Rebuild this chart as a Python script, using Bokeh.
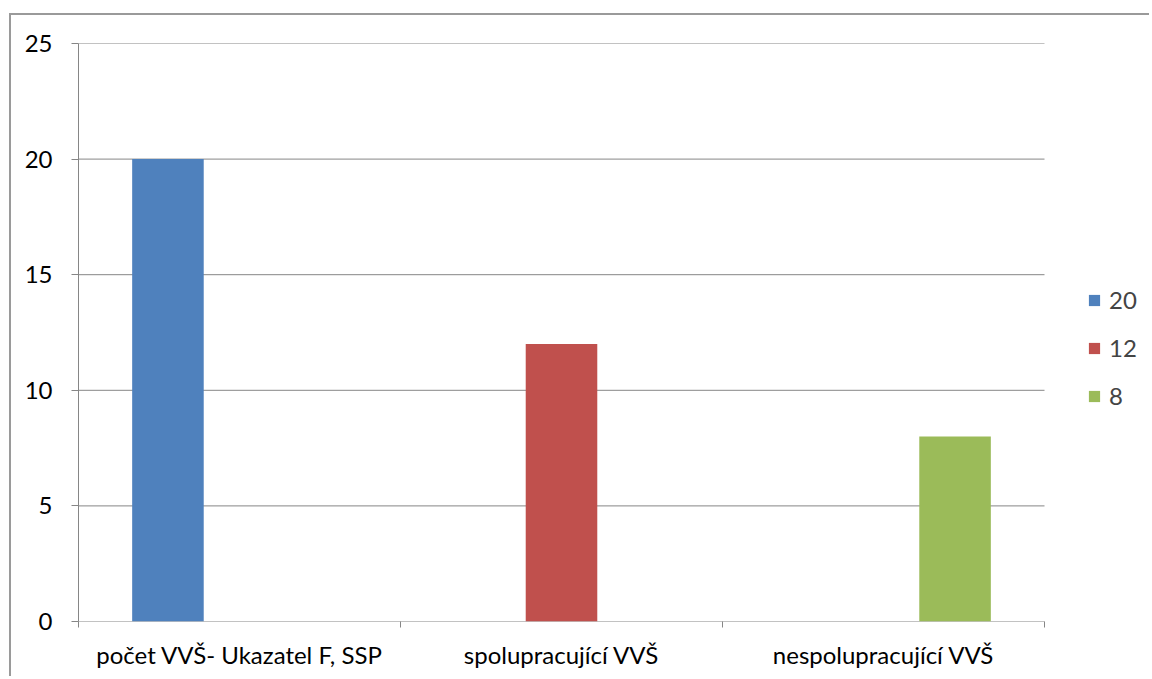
import numpy as np
from bokeh.plotting import figure
from bokeh.models import FixedTicker, Legend, LegendItem, Range1d
from bokeh.embed import file_html
from bokeh.resources import INLINE

categories = ["počet VVŠ- Ukazatel F, SSP", "spolupracující VVŠ", "nespolupracující VVŠ"]
series_names = ["20", "12", "8"]
series_values = [
    [20, 0, 0],
    [0, 12, 0],
    [0, 0, 8],
]
colors = ["#4F81BD", "#C0504D", "#9BBB59"]
y_ticks = [0, 5, 10, 15, 20, 25]

FONT = "Lato"
FS = "24px"
GRAY = "#868686"

# layout (pixels)
W, H = 1140, 663
MB_L, MB_R, MB_T, MB_B = 67, 1, 28, 57
PLOT_W = 966  # pixel width of the category area; the rest of the frame holds the legend
frame_w = W - MB_L - MB_R
n_cat = len(categories)
x_end = n_cat * frame_w / PLOT_W

p = figure(width=W, height=H, output_backend="svg", toolbar_location=None,
           x_range=Range1d(0, x_end), y_range=Range1d(0, y_ticks[-1]),
           min_border_left=MB_L, min_border_top=MB_T, min_border_bottom=MB_B, min_border_right=MB_R)
p.margin = (13, 0, 0, 9)
p.styles = {"border-top": "2px solid #9a9a9a", "border-left": "2px solid #9a9a9a"}
p.outline_line_color = None

# gridlines over the category area only
p.segment(x0=[0] * len(y_ticks), x1=[n_cat] * len(y_ticks), y0=y_ticks, y1=y_ticks,
          line_color=GRAY, line_width=1)

gap_width = 1.5
n = len(series_names)
bar_w = 1.0 / (n + gap_width)
centers = np.arange(n_cat) + 0.5

items = []
for j, (name, vals, col) in enumerate(zip(series_names, series_values, colors)):
    xs = centers + (j - (n - 1) / 2) * bar_w
    r = p.vbar(x=xs, top=vals, width=bar_w, fill_color=col, line_color=None)
    items.append(LegendItem(label=name, renderers=[r]))

# x axis
p.xaxis.ticker = FixedTicker(ticks=list(centers), minor_ticks=list(range(n_cat + 1)))
p.xaxis.major_label_overrides = {float(c): cat for c, cat in zip(centers, categories)}
p.xaxis.major_tick_out = 0
p.xaxis.major_tick_in = 0
p.xaxis.minor_tick_out = 6
p.xaxis.minor_tick_in = 0
p.xaxis.minor_tick_line_color = GRAY
p.xaxis.axis_line_color = None
p.xaxis.major_label_standoff = 12
p.xaxis.major_label_text_font = FONT
p.xaxis.major_label_text_font_size = FS
p.xaxis.major_label_text_color = "#000000"
p.xgrid.grid_line_color = None

# y axis
p.yaxis.ticker = FixedTicker(ticks=y_ticks)
p.yaxis.major_tick_out = 7
p.yaxis.major_tick_in = 0
p.yaxis.minor_tick_line_color = None
p.yaxis.major_tick_line_color = GRAY
p.yaxis.axis_line_color = GRAY
p.yaxis.major_label_standoff = 19
p.yaxis.major_label_text_font = FONT
p.yaxis.major_label_text_font_size = FS
p.yaxis.major_label_text_color = "#000000"
p.ygrid.grid_line_color = None

legend = Legend(items=items, location=(1009, 211), padding=0, margin=0,
                glyph_width=14, glyph_height=14, label_height=14, spacing=19,
                label_standoff=8, label_text_font=FONT, label_text_font_size=FS,
                border_line_color=None, background_fill_alpha=0)
p.add_layout(legend, "center")

open("out.html", "w").write(file_html(p, INLINE))
